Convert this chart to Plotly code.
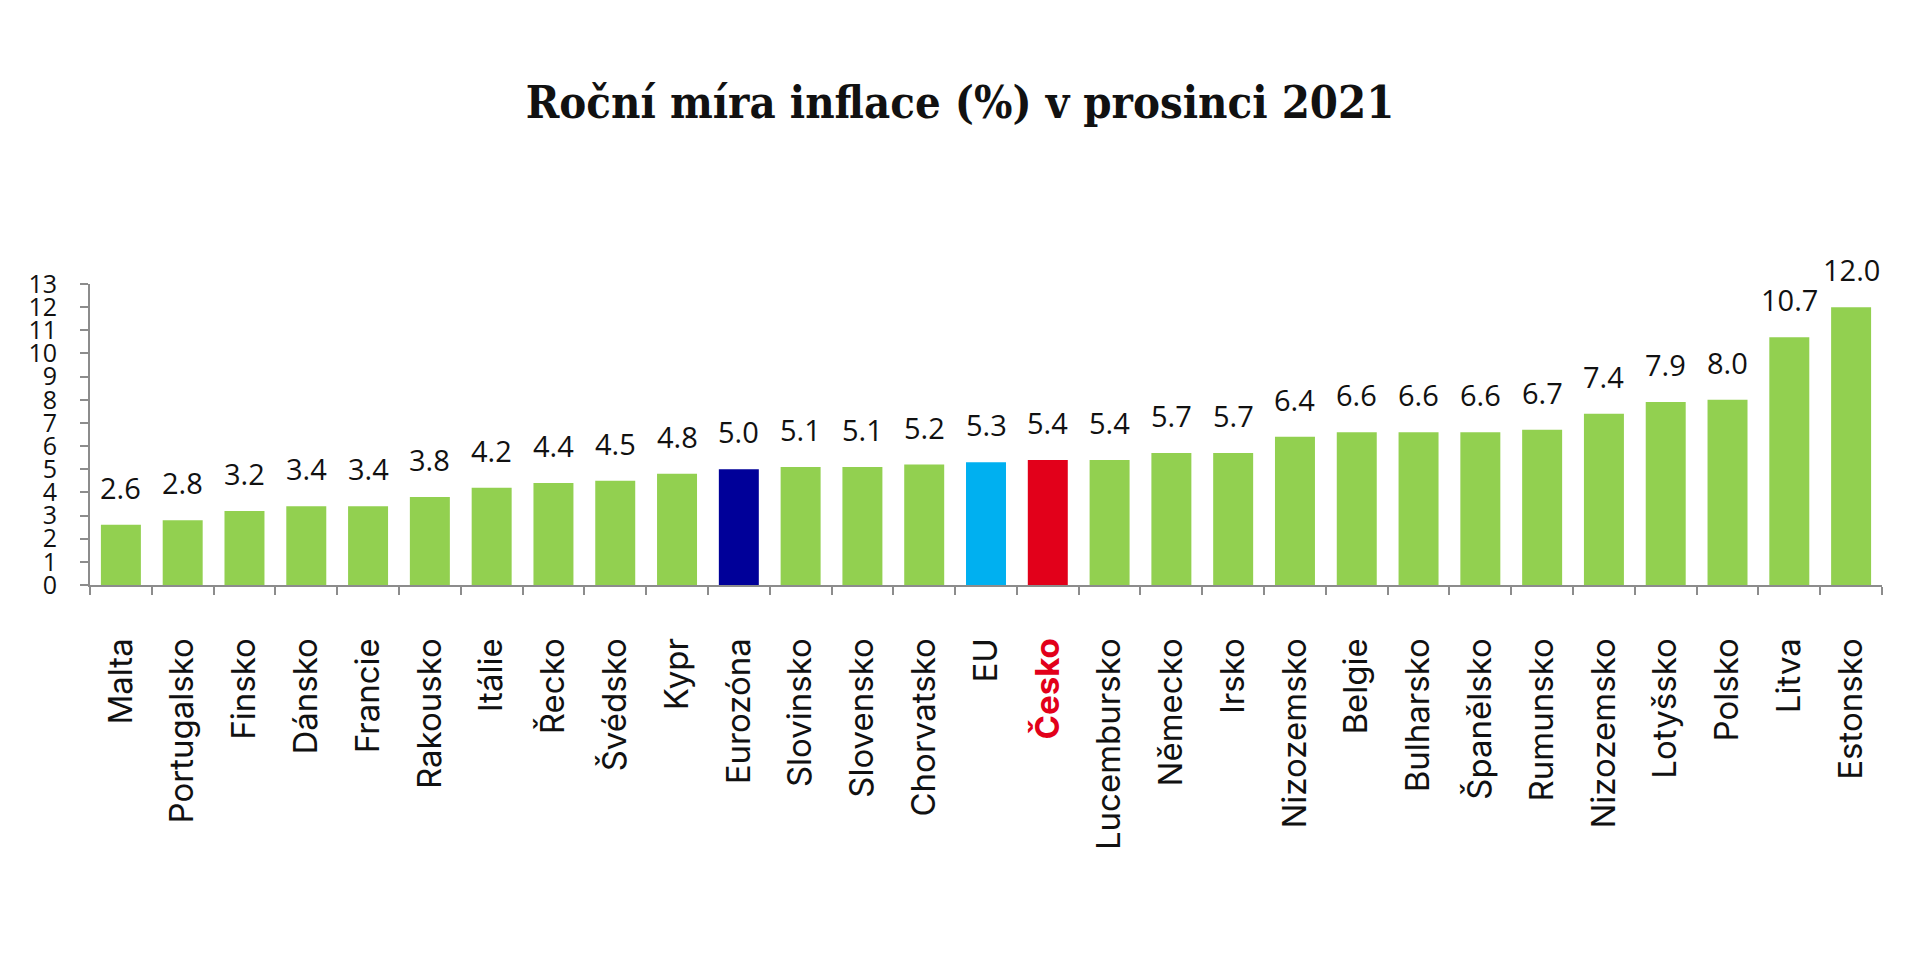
import plotly.graph_objects as go

categories = ["Malta", "Portugalsko", "Finsko", "Dánsko", "Francie", "Rakousko", "Itálie",
              "Řecko", "Švédsko", "Kypr", "Eurozóna", "Slovinsko", "Slovensko", "Chorvatsko",
              "EU", "Česko", "Lucembursko", "Německo", "Irsko", "Nizozemsko", "Belgie",
              "Bulharsko", "Španělsko", "Rumunsko", "Nizozemsko", "Lotyšsko", "Polsko",
              "Litva", "Estonsko"]
values = [2.6, 2.8, 3.2, 3.4, 3.4, 3.8, 4.2, 4.4, 4.5, 4.8, 5.0, 5.1, 5.1, 5.2, 5.3, 5.4,
          5.4, 5.7, 5.7, 6.4, 6.6, 6.6, 6.6, 6.7, 7.4, 7.9, 8.0, 10.7, 12.0]
y_ticks = list(range(0, 14))
title_text = "Roční míra inflace (%) v prosinci 2021"

GREEN = "#92D050"
highlight = {"Eurozóna": "#000099", "EU": "#00B0F0", "Česko": "#E2001A"}
colors = [highlight.get(c, GREEN) for c in categories]

xpos = list(range(len(categories)))
ticktext = [f"<b><span style='color:#E2001A'>{c}</span></b>" if c == "Česko" else c
            for c in categories]

fig = go.Figure()
fig.add_trace(go.Bar(x=xpos, y=values, marker=dict(color=colors, line=dict(width=0)),
                     hoverinfo="x+y"))

for xi, v in zip(xpos, values):
    fig.add_annotation(x=xi, y=v, text=f"{v:.1f}", showarrow=False, yanchor="bottom",
                       yshift=16, font=dict(family="Open Sans", size=29, color="#111111"))

fig.update_layout(
    width=1920, height=963,
    margin=dict(l=90, r=38, t=284, b=378, autoexpand=False),
    paper_bgcolor="white", plot_bgcolor="white",
    bargap=0.353, showlegend=False,
    title=dict(text=f"<b>{title_text}</b>", x=0.5, xanchor="center", xref="container",
               y=1 - 102 / 963, yref="container", yanchor="middle",
               font=dict(family="DejaVu Serif Condensed", size=45, color="#111111")),
)
fig.update_xaxes(
    range=[-0.5, len(categories) - 0.5], tickmode="array", tickvals=xpos, ticktext=ticktext,
    tickangle=-90, ticks="", showline=True, linecolor="#8C8C8C", linewidth=2,
    tickfont=dict(family="Inter", size=33, color="#111111"), ticklabelstandoff=38,
    showgrid=False, zeroline=False,
    minor=dict(tickmode="array", tickvals=[i - 0.5 for i in range(len(categories) + 1)],
               ticks="outside", ticklen=8, tickcolor="#8C8C8C", tickwidth=2, showgrid=False),
)
fig.update_yaxes(
    range=[0, 13], tickmode="array", tickvals=y_ticks, ticks="outside", ticklen=8,
    tickcolor="#8C8C8C", tickwidth=2, showline=True, linecolor="#8C8C8C", linewidth=2,
    tickfont=dict(family="Open Sans", size=25, color="#111111"), ticklabelstandoff=18,
    showgrid=False, zeroline=False,
)

fig.write_html("out.html")
